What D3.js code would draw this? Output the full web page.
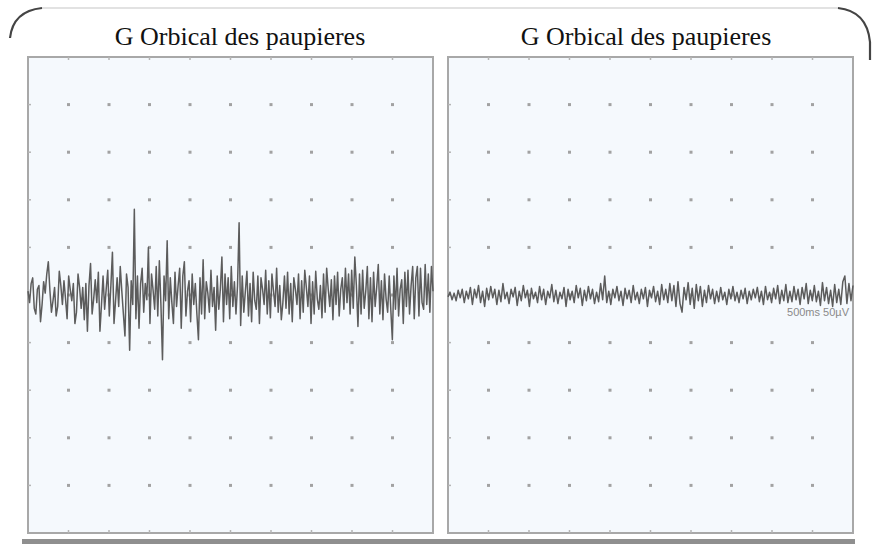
<!DOCTYPE html>
<html>
<head>
<meta charset="utf-8">
<script src="https://cdn.jsdelivr.net/npm/d3@7"></script>
<style>
  html, body { margin: 0; padding: 0; background: #fff; }
  svg { display: block; }
</style>
</head>
<body>
<svg id="chart" width="875" height="546"></svg>
<script>
// ---------------- data ----------------
const panelTitles = ["G Orbical des paupieres", "G Orbical des paupieres"];
const timeDivisions = [0, 500, 1000, 1500, 2000, 2500, 3000, 3500, 4000, 4500, 5000]; // ms
const voltDivisions = [-250, -200, -150, -100, -50, 0, 50, 100, 150, 200, 250];      // µV
const scaleLabel = "500ms 50µV";

// left recording (µV), sampled evenly over 5000 ms
const leftValues = [
  4, -8, 12, 18, -14, -20, 6, 10, -28, -10, 14, 2, 22,
  35, 5, -18, -6, 8, -22, -12, 25, 10, -10, 15, -4, -25,
  20, 6, -6, 12, -30, -18, 22, 8, -14, 8, -26, 12, -38,
  10, 33, -20, -4, 16, -8, 24, -38, -10, 20, -15, 6, 26,
  -22, 10, 45, -30, -6, 18, -12, 30, 4, -20, -43, 22, 8,
  -58, 15, -10, 90, -25, 20, -35, 12, 28, -18, 12, -5, 50,
  -30, 22, 5, -15, 30, -22, 36, -10, -68, 20, -6, 57, -25,
  18, -8, -30, 24, -12, 10, 28, -35, 20, 35, -22, 4, 15,
  -28, 22, -10, 12, -20, -47, 18, -20, 37, -25, 14, 2, -18,
  26, -12, 8, -37, 20, -15, 6, 40, -28, 22, -10, 18, -25,
  30, -12, 14, -20, 10, 76, -32, 20, -18, 4, 25, -22, 12,
  -28, 24, -6, -15, 20, -30, 18, 6, -10, 26, -20, 15, -24,
  22, 4, -12, 28, -18, 10, -26, -8, 20, -14, 24, -20, 12,
  -28, 18, 6, -10, 22, -25, 15, -18, 26, 8, -12, 20, -30,
  14, -20, 25, -4, -15, 10, -24, 22, -18, 28, 6, -12, 16,
  -26, 20, -10, 24, -22, 6, 18, -15, 28, -8, 22, -20, 26,
  -14, 40, 10, -33, 22, -20, 26, -14, 4, 30, -25, 18, -28,
  24, -12, 8, 32, -20, 15, -26, 22, -4, -18, 20, -15, -47,
  20, -15, 28, -22, 6, 16, -30, 24, -12, 26, -20, 10, 30,
  -25, 18, 30, -22, 28, -8, -15, 32, -10, 22, -18, 30, 4
];

// right recording (µV)
const rightValues = [
  -2, 3, -5, 2, -6, 5, -3, 6, -8, 4,
  -4, 8, -10, 6, -3, 10, -8, 4, -12, 7,
  -5, 9, -3, 6, -10, 5, -7, 12, -4, 3,
  -9, 6, -2, 8, -11, 4, -6, 10, -3, 5,
  -12, 7, -4, 3, -8, 9, -5, 6, -10, 4,
  -3, 11, -7, 5, -9, 3, -4, 8, -12, 6,
  -5, 4, -8, 10, -3, 7, -11, 5, -6, 9,
  -4, 6, -9, 3, -7, 12, -5, 20, -8, 4,
  -10, 6, -3, 9, -6, 4, -11, 7, -4, 5,
  -8, 10, -5, 3, -9, 6, -4, 8, -12, 5,
  -3, 9, -7, 4, -10, 11, -5, 6, -8, 12,
  -6, 10, -12, 14, -9, -18, 8, -5, 13, -10,
  7, -14, 11, -6, 9, -12, 5, -8, 10, -4,
  6, -9, 4, -7, 8, -5, 3, -10, 6, -4,
  9, -6, 3, -8, 5, -4, 7, -9, 4, -5,
  6, -3, 8, -7, 4, -10, 9, -5, 3, -8,
  7, -4, 10, -9, 5, -6, 11, -8, 4, -7,
  9, -5, 6, -10, 8, -4, 12, -9, 5, -6,
  10, -7, 4, -11, 13, -6, 8, -9, 5, -12,
  11, -8, 6, -10, 14, 20, -9, 12, -6, 10
];

// ---------------- drawing ----------------
const svg = d3.select("#chart");
const defs = svg.append("defs");
defs.append("filter").attr("id", "soft")
  .attr("x", "-5%").attr("y", "-20%").attr("width", "110%").attr("height", "140%")
  .append("feGaussianBlur").attr("stdDeviation", 0.5);

// outer frame pieces
svg.append("path").attr("d", "M 42 8 L 838 8")
  .attr("stroke", "#d9d9d9").attr("stroke-width", 1.5).attr("fill", "none");
svg.append("path").attr("d", "M 10 38 Q 13 11 42 8")
  .attr("stroke", "#444").attr("stroke-width", 2.2).attr("fill", "none");
svg.append("path").attr("d", "M 838 8 Q 867 11 870 42 L 870 60")
  .attr("stroke", "#444").attr("stroke-width", 2.2).attr("fill", "none");
svg.append("rect").attr("x", 22).attr("y", 539).attr("width", 833).attr("height", 5)
  .attr("fill", "#8f8f8f");

const panels = [
  { title: panelTitles[0], values: leftValues, x0: 28, x1: 433, titleX: 240 },
  { title: panelTitles[1], values: rightValues, x0: 448, x1: 853, titleX: 646 }
];
const y0 = 57, y1 = 533;

panels.forEach((p, pi) => {
  const g = svg.append("g");
  const x = d3.scaleLinear().domain([timeDivisions[0], timeDivisions[timeDivisions.length - 1]]).range([p.x0, p.x1]);
  const y = d3.scaleLinear().domain([voltDivisions[0], voltDivisions[voltDivisions.length - 1]]).range([y1, y0]);

  g.append("rect").attr("x", p.x0).attr("y", y0)
    .attr("width", p.x1 - p.x0).attr("height", y1 - y0)
    .attr("fill", "#f5f9fd").attr("stroke", "#a8a8a8").attr("stroke-width", 2);

  // edge ticks
  const innerT = timeDivisions.slice(1, -1);
  const innerV = voltDivisions.slice(1, -1);
  g.selectAll(".tt").data(innerT).join("line")
    .attr("x1", d => x(d)).attr("x2", d => x(d))
    .attr("y1", y0).attr("y2", y0 + 3).attr("stroke", "#b5b5b5").attr("stroke-width", 1.5);
  g.selectAll(".tb").data(innerT).join("line")
    .attr("x1", d => x(d)).attr("x2", d => x(d))
    .attr("y1", y1).attr("y2", y1 - 3).attr("stroke", "#b5b5b5").attr("stroke-width", 1.5);
  g.selectAll(".tl").data(innerV).join("line")
    .attr("x1", p.x0).attr("x2", p.x0 + 3)
    .attr("y1", d => y(d)).attr("y2", d => y(d)).attr("stroke", "#b5b5b5").attr("stroke-width", 1.5);

  // grid dots
  const pts = [];
  innerT.forEach(t => innerV.forEach(v => pts.push([t, v])));
  g.selectAll(".dot").data(pts).join("rect")
    .attr("x", d => x(d[0]) - 1.5).attr("y", d => y(d[1]) - 1.5)
    .attr("width", 3).attr("height", 3).attr("fill", "#a2a2a2");

  // trace
  const n = p.values.length;
  const step = (timeDivisions[timeDivisions.length - 1] - timeDivisions[0]) / (n - 1);
  const line = d3.line().x((d, i) => x(i * step)).y(d => y(d));
  g.append("path").datum(p.values)
    .attr("d", line).attr("fill", "none")
    .attr("stroke", "#5c5c5c").attr("stroke-width", 1.5)
    .attr("stroke-linejoin", "round").attr("filter", "url(#soft)");

  // title
  svg.append("text").attr("x", p.titleX).attr("y", 45)
    .attr("text-anchor", "middle")
    .attr("font-family", "'Liberation Serif', 'Times New Roman', serif")
    .attr("font-size", 26).attr("fill", "#111")
    .text(p.title);

  if (pi === 1) {
    g.append("text").attr("x", p.x1 - 4).attr("y", 316)
      .attr("text-anchor", "end")
      .attr("font-family", "'Liberation Sans', Arial, sans-serif")
      .attr("font-size", 11).attr("fill", "#8a8a8a")
      .text(scaleLabel);
  }
});
</script>
</body>
</html>
